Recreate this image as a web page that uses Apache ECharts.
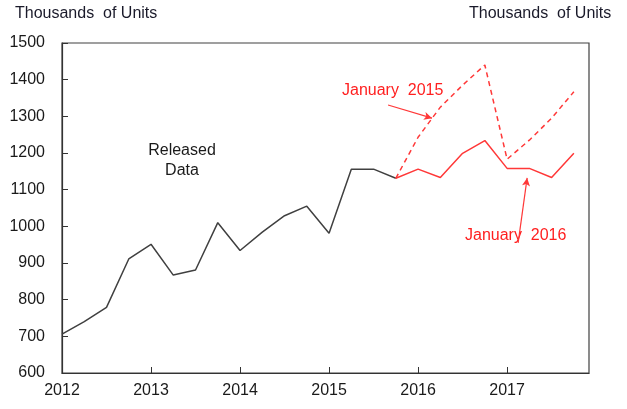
<!DOCTYPE html>
<html>
<head>
<meta charset="utf-8">
<script src="https://cdn.jsdelivr.net/npm/echarts@6/dist/echarts.min.js"></script>
<style>
  html, body { margin: 0; padding: 0; background: #fff; }
  #main { width: 627px; height: 409px; }
</style>
</head>
<body>
<div id="main"></div>
<script>
// quarterly positions (year fractions)
var releasedX = [2012, 2012.25, 2012.5, 2012.75, 2013, 2013.25, 2013.5, 2013.75,
                 2014, 2014.25, 2014.5, 2014.75, 2015, 2015.25, 2015.5, 2015.75];
var releasedY = [706, 740, 779, 911, 951, 867, 881, 1010,
                 934, 984, 1029, 1055, 981, 1156, 1156, 1131];

var forecastX = [2015.75, 2016, 2016.25, 2016.5, 2016.75, 2017, 2017.25, 2017.5, 2017.75];
var jan2016 = [1131, 1156, 1133, 1199, 1234, 1158, 1158, 1133, 1199];
var jan2015 = [1131, 1243, 1325, 1385, 1440, 1183, 1235, 1295, 1367];

var yearTicks = [2012, 2013, 2014, 2015, 2016, 2017];

function zip(xs, ys) {
    return xs.map(function (x, i) { return [x, ys[i]]; });
}

var font = 'Liberation Sans, Arial, sans-serif';
var red = '#ff3838';

var myChart = echarts.init(document.getElementById('main'));
myChart.setOption({
    animation: false,
    grid: {
        left: 62, top: 43, right: 38, bottom: 36,
        show: true, borderColor: '#404040', borderWidth: 1.2
    },
    xAxis: {
        type: 'value',
        min: yearTicks[0],
        max: 2017.92,
        interval: 1,
        axisLine: { lineStyle: { color: '#333', width: 1.2 } },
        axisTick: { inside: true, length: 6, lineStyle: { color: '#333' } },
        splitLine: { show: false },
        axisLabel: {
            showMaxLabel: false,
            margin: 10,
            color: '#1a1a1a',
            fontFamily: font,
            fontSize: 16,
            formatter: function (v) { return String(v); }
        }
    },
    yAxis: {
        type: 'value',
        min: 600,
        max: 1500,
        interval: 100,
        axisLine: { show: true, lineStyle: { color: '#333', width: 1.2 } },
        axisTick: { show: true, inside: true, length: 6, lineStyle: { color: '#333' } },
        splitLine: { show: false },
        axisLabel: {
            margin: 17,
            color: '#1a1a1a',
            fontFamily: font,
            fontSize: 16,
            formatter: function (v) { return String(v); }
        }
    },
    series: [
        {
            name: 'Released Data',
            type: 'line',
            data: zip(releasedX, releasedY),
            showSymbol: false,
            lineStyle: { color: '#404040', width: 1.5 }
        },
        {
            name: 'January 2016',
            type: 'line',
            data: zip(forecastX, jan2016),
            showSymbol: false,
            lineStyle: { color: red, width: 1.5 },
            markLine: {
                silent: true,
                symbol: ['none', 'arrow'],
                symbolSize: [6, 8],
                lineStyle: { color: red, width: 1.2, type: 'solid' },
                label: { show: false },
                data: [[{ coord: [2017.124, 955] }, { coord: [2017.225, 1132] }]]
            }
        },
        {
            name: 'January 2015',
            type: 'line',
            data: zip(forecastX, jan2015),
            showSymbol: false,
            lineStyle: { color: red, width: 1.5, type: [5, 4] },
            markLine: {
                silent: true,
                symbol: ['none', 'arrow'],
                symbolSize: [6, 8],
                lineStyle: { color: red, width: 1.2, type: 'solid' },
                label: { show: false },
                data: [[{ coord: [2015.663, 1331] }, { coord: [2016.157, 1295] }]]
            }
        }
    ],
    graphic: [
        {
            type: 'text', left: 15, top: 6,
            style: { text: 'Thousands  of Units', fill: '#1a1a2a', font: '16px ' + font }
        },
        {
            type: 'text', left: 469, top: 6,
            style: { text: 'Thousands  of Units', fill: '#1a1a2a', font: '16px ' + font }
        },
        {
            type: 'text', x: 182, y: 161,
            style: {
                text: 'Released\nData', fill: '#1a1a1a', font: '16px ' + font,
                align: 'center', verticalAlign: 'middle', lineHeight: 20
            }
        },
        {
            type: 'text', left: 342, top: 83,
            style: { text: 'January  2015', fill: '#ff1f1f', font: '16px ' + font }
        },
        {
            type: 'text', left: 465, top: 228,
            style: { text: 'January  2016', fill: '#ff1f1f', font: '16px ' + font }
        }
    ]
});
</script>
</body>
</html>
